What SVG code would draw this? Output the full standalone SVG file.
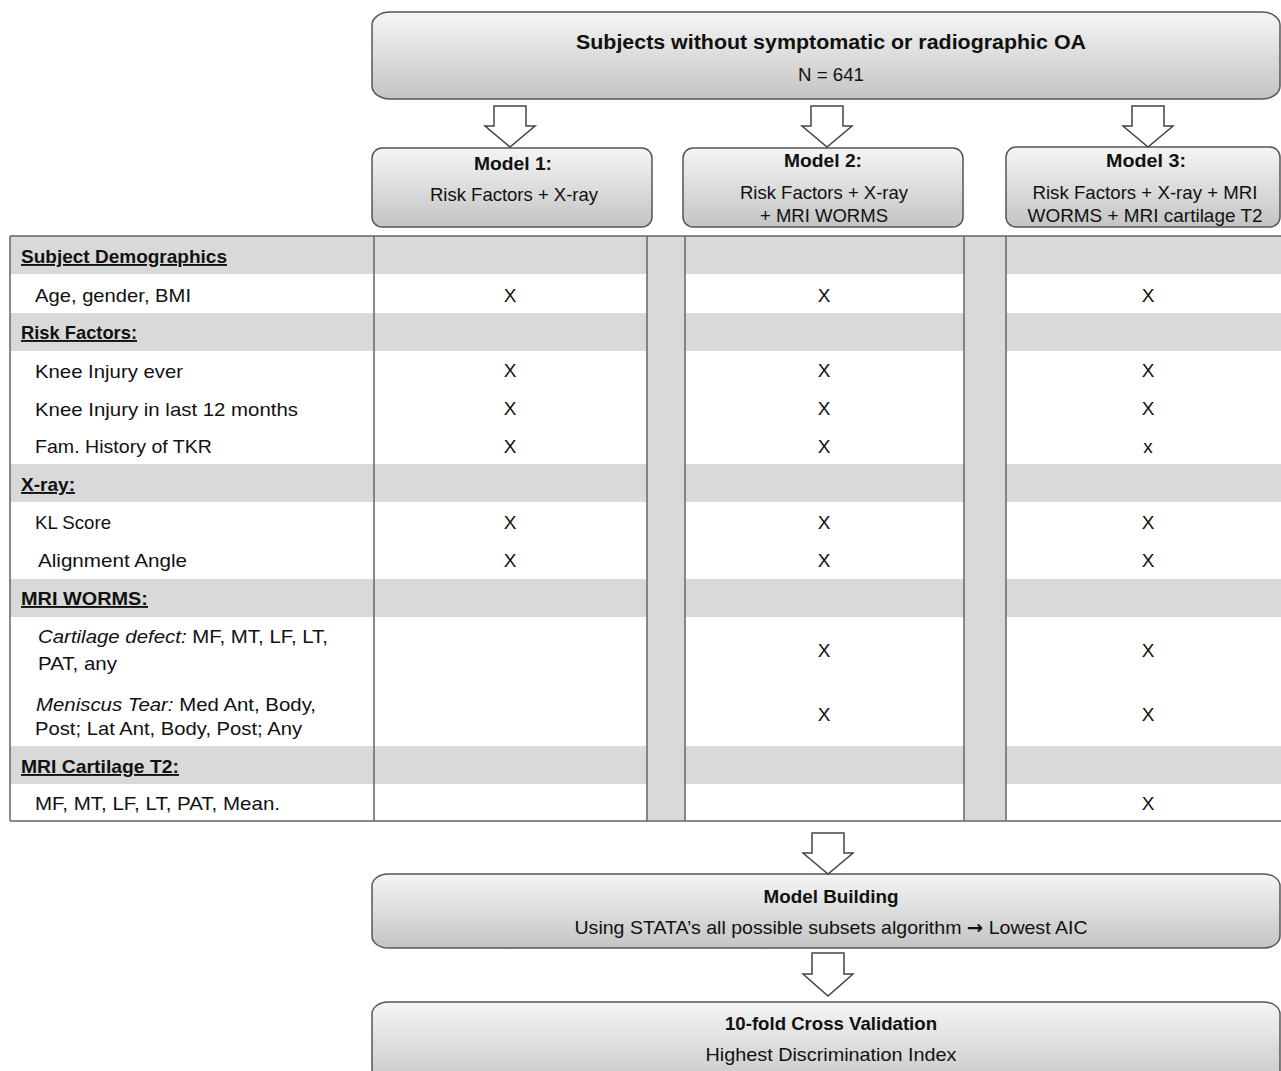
<svg xmlns="http://www.w3.org/2000/svg" width="1281" height="1071" viewBox="0 0 1281 1071">
<defs>
<linearGradient id="g" x1="0" y1="0" x2="0" y2="1">
<stop offset="0" stop-color="#f5f5f5"/>
<stop offset="1" stop-color="#c4c4c4"/>
</linearGradient>
</defs>
<style>
.box{fill:url(#g);stroke:#555;stroke-width:1.5}
.arr{fill:#fff;stroke:#444;stroke-width:1.5}
text{font-family:"Liberation Sans",Arial,sans-serif;font-size:19px;fill:#111}
.b{font-weight:bold}
.c{text-anchor:middle}
.u{text-decoration:underline}
.gray{fill:#d9d9d9}
.ln{stroke:#666;stroke-width:1.5;fill:none}
</style>
<rect width="1281" height="1071" fill="#fff"/>

<g id="top-node">
<rect class="box" x="372" y="12" width="908" height="87" rx="18" ry="13"/>
<text class="b c" x="831" y="49" style="font-size:20px" textLength="510" lengthAdjust="spacingAndGlyphs">Subjects without symptomatic or radiographic OA</text>
<text class="c" x="831" y="81" textLength="66" lengthAdjust="spacingAndGlyphs">N = 641</text>
</g>

<g id="model1">
<rect class="box" x="372" y="148" width="280" height="79" rx="10"/>
<text class="b c" x="513" y="170" textLength="78" lengthAdjust="spacingAndGlyphs">Model 1:</text>
<text class="c" x="514" y="201" textLength="168" lengthAdjust="spacingAndGlyphs">Risk Factors + X-ray</text>
</g>

<g id="model2">
<rect class="box" x="683" y="148" width="280" height="79" rx="10"/>
<text class="b c" x="823" y="167" textLength="78" lengthAdjust="spacingAndGlyphs">Model 2:</text>
<text class="c" x="824" y="199" textLength="168" lengthAdjust="spacingAndGlyphs">Risk Factors + X-ray</text>
<text class="c" x="824" y="222" textLength="128" lengthAdjust="spacingAndGlyphs">+ MRI WORMS</text>
</g>

<g id="model3">
<rect class="box" x="1006" y="147" width="274" height="80" rx="10"/>
<text class="b c" x="1146" y="167" textLength="80" lengthAdjust="spacingAndGlyphs">Model 3:</text>
<text class="c" x="1145" y="199" textLength="225" lengthAdjust="spacingAndGlyphs">Risk Factors + X-ray + MRI</text>
<text class="c" x="1145" y="222" textLength="235" lengthAdjust="spacingAndGlyphs">WORMS + MRI cartilage T2</text>
</g>

<g id="table">
<rect x="10" y="236" width="1271" height="585" fill="#fff"/>
<rect class="gray" x="10" y="236" width="1271" height="38"/>
<rect class="gray" x="10" y="313" width="1271" height="38"/>
<rect class="gray" x="10" y="464" width="1271" height="38"/>
<rect class="gray" x="10" y="579" width="1271" height="38"/>
<rect class="gray" x="10" y="746" width="1271" height="38"/>
<rect class="gray" x="647" y="236" width="38" height="585"/>
<rect class="gray" x="964" y="236" width="42" height="585"/>
<path class="ln" d="M10,236 H1281 M10,821 H1281 M10,236 V821 M374,236 V821 M647,236 V821 M685,236 V821 M964,236 V821 M1006,236 V821"/>

<text class="b u" x="21" y="263" textLength="206" lengthAdjust="spacingAndGlyphs">Subject Demographics</text>
<text x="35" y="302" textLength="156" lengthAdjust="spacingAndGlyphs">Age, gender, BMI</text>
<text class="b u" x="21" y="339" textLength="116" lengthAdjust="spacingAndGlyphs">Risk Factors:</text>
<text x="35" y="378" textLength="148" lengthAdjust="spacingAndGlyphs">Knee Injury ever</text>
<text x="35" y="416" textLength="263" lengthAdjust="spacingAndGlyphs">Knee Injury in last 12 months</text>
<text x="35" y="453" textLength="177" lengthAdjust="spacingAndGlyphs">Fam. History of TKR</text>
<text class="b u" x="21" y="491" textLength="54" lengthAdjust="spacingAndGlyphs">X-ray:</text>
<text x="35" y="529" textLength="76" lengthAdjust="spacingAndGlyphs">KL Score</text>
<text x="38" y="567" textLength="149" lengthAdjust="spacingAndGlyphs">Alignment Angle</text>
<text class="b u" x="21" y="605" textLength="127" lengthAdjust="spacingAndGlyphs">MRI WORMS:</text>
<text x="38" y="643" textLength="290" lengthAdjust="spacingAndGlyphs"><tspan font-style="italic">Cartilage defect:</tspan> MF, MT, LF, LT,</text>
<text x="38" y="670" textLength="79" lengthAdjust="spacingAndGlyphs">PAT, any</text>
<text x="36" y="711" textLength="280" lengthAdjust="spacingAndGlyphs"><tspan font-style="italic">Meniscus Tear:</tspan> Med Ant, Body,</text>
<text x="35" y="735" textLength="267" lengthAdjust="spacingAndGlyphs">Post; Lat Ant, Body, Post; Any</text>
<text class="b u" x="21" y="773" textLength="158" lengthAdjust="spacingAndGlyphs">MRI Cartilage T2:</text>
<text x="35" y="810" textLength="245" lengthAdjust="spacingAndGlyphs">MF, MT, LF, LT, PAT, Mean.</text>

<g class="c">
<text x="510" y="302">X</text><text x="824" y="302">X</text><text x="1148" y="302">X</text>
<text x="510" y="377">X</text><text x="824" y="377">X</text><text x="1148" y="377">X</text>
<text x="510" y="415">X</text><text x="824" y="415">X</text><text x="1148" y="415">X</text>
<text x="510" y="453">X</text><text x="824" y="453">X</text><text x="1148" y="453">x</text>
<text x="510" y="529">X</text><text x="824" y="529">X</text><text x="1148" y="529">X</text>
<text x="510" y="567">X</text><text x="824" y="567">X</text><text x="1148" y="567">X</text>
<text x="824" y="657">X</text><text x="1148" y="657">X</text>
<text x="824" y="721">X</text><text x="1148" y="721">X</text>
<text x="1148" y="810">X</text>
</g>
</g>

<g id="model-building">
<rect class="box" x="372" y="874" width="908" height="74" rx="16" ry="12"/>
<text class="b c" x="831" y="903" textLength="135" lengthAdjust="spacingAndGlyphs">Model Building</text>
<text class="c" x="831" y="934" textLength="513" lengthAdjust="spacingAndGlyphs">Using STATA’s all possible subsets algorithm <tspan style="font-family:'DejaVu Sans',sans-serif;font-weight:bold">→</tspan> Lowest AIC</text>
</g>

<g id="cross-validation">
<rect class="box" x="372" y="1002" width="908" height="90" rx="16" ry="12"/>
<text class="b c" x="831" y="1030" textLength="212" lengthAdjust="spacingAndGlyphs">10-fold Cross Validation</text>
<text class="c" x="831" y="1061" textLength="251" lengthAdjust="spacingAndGlyphs">Highest Discrimination Index</text>
</g>

<g id="connectors">
<polygon class="arr" points="494,106 526,106 526,126 535,126 510,147 485,126 494,126"/>
<polygon class="arr" points="811,106 843,106 843,126 852,126 827,147 802,126 811,126"/>
<polygon class="arr" points="1132,106 1164,106 1164,126 1173,126 1148,147 1123,126 1132,126"/>
<polygon class="arr" points="812,833 844,833 844,853 853,853 828,874 803,853 812,853"/>
<polygon class="arr" points="812,953 844,953 844,974 853,974 828,996 803,974 812,974"/>
</g>
</svg>
